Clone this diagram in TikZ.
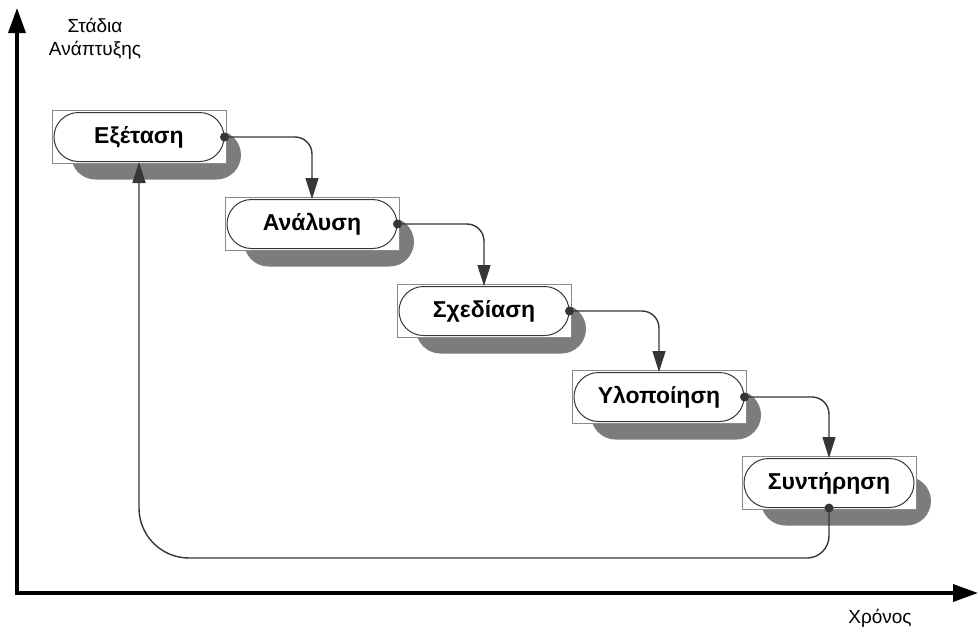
\documentclass[tikz,border=0pt]{standalone}
\usepackage{fontspec}
\setmainfont{Liberation Sans}
\usetikzlibrary{arrows.meta,shapes.misc}

\definecolor{shadowgray}{HTML}{7C7C7C}
\definecolor{linegray}{HTML}{363636}
\definecolor{framegray}{HTML}{8A8A8A}

\tikzset{
  axis/.style={line width=3.5pt, black, -{Triangle[length=25pt,width=17pt]}},
  axislabel/.style={font=\fontsize{19}{23}\selectfont, align=center, inner sep=0pt},
  stagebox/.style={rounded rectangle, draw=linegray, line width=1pt, fill=white,
    minimum width=170pt, minimum height=49pt, inner sep=0pt,
    font=\fontsize{23}{27}\selectfont\bfseries},
  stageshadow/.style={rounded rectangle, fill=shadowgray, draw=none,
    minimum width=170pt, minimum height=49pt, inner sep=0pt},
  stageframe/.style={rectangle, draw=framegray, line width=0.8pt, fill=white,
    minimum width=174pt, minimum height=53pt, inner sep=0pt},
  flow/.style={draw=linegray, line width=1.4pt, rounded corners=17pt,
    -{Triangle[length=21pt,width=13pt]}},
  joint/.style={circle, fill=linegray, minimum size=9pt, inner sep=0pt}
}

\begin{document}
\begin{tikzpicture}[x=1pt,y=-1pt]
\useasboundingbox (0,0) rectangle (978,630);

% axes
\coordinate (ytop) at (17,8);
\coordinate (xend) at (978,593);
\draw[axis] (17,595) -- (ytop);
\draw[axis] (15,593) -- (xend);
\node[axislabel] (ylab) at (95,39) {Στάδια\\Ανάπτυξης};
\node[axislabel] (xlab) at (880,618) {Χρόνος};

% stages: shadow, frame and pill
\foreach \n/\cx/\cy/\t in {a/139/137/Εξέταση, b/312/224/Ανάλυση,
    c/484/311/Σχεδίαση, d/659/397/Υλοποίηση, e/829/483/Συντήρηση}{
  \node[stageshadow] (\n-sh) at (\cx+17,\cy+18) {};
  \node[stageframe] (\n-fr) at (\cx,\cy) {};
  \node[stagebox] (\n) at (\cx,\cy) {\t};
}

% forward flow between stages
\foreach \p/\q in {a/b, b/c, c/d, d/e}{
  \draw[flow] (\p.east) -| (\q.north);
  \node[joint] at (\p.east) {};
}

% feedback loop back to the first stage
\coordinate (loopR) at (829,558);
\coordinate (loopL) at (139,558);
\draw[flow, rounded corners=0pt] (e.south)
  [rounded corners=22pt] -- (loopR)
  [rounded corners=50pt] -- (loopL)
  [rounded corners=0pt] -- (a.south);
\node[joint] at (e.south) {};
\end{tikzpicture}
\end{document}
